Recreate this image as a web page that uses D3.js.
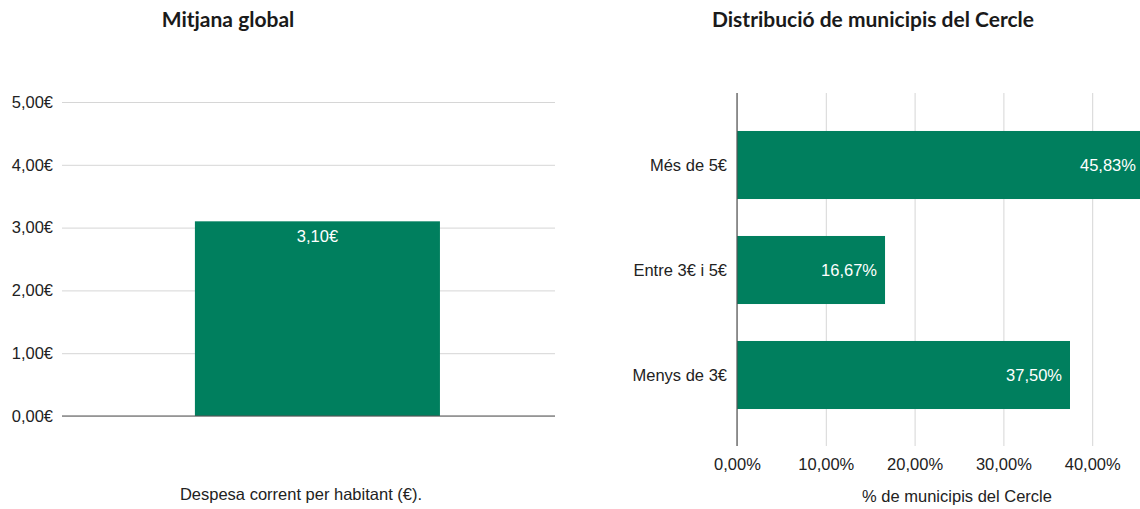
<!DOCTYPE html>
<html>
<head>
<meta charset="utf-8">
<script src="https://cdn.jsdelivr.net/npm/d3@7"></script>
<style>
  html, body { margin: 0; padding: 0; background: #fff; }
  svg { display: block; }
  .title { font-family: Lato, "Open Sans", sans-serif; font-weight: 700; font-size: 21px; fill: #1a1a1a; }
  .lbl { font-family: "Liberation Sans", Arial, Helvetica, sans-serif; font-size: 16.5px; fill: #222; }
</style>
</head>
<body>
<svg id="chart" width="1140" height="509"></svg>
<script>
// Left panel: overall average
const avgCategories = ["Mitjana"];
const avgValues = [3.10];
const avgTicks = [0, 1, 2, 3, 4, 5];

// Right panel: distribution of municipalities
const distCategories = ["Més de 5€", "Entre 3€ i 5€", "Menys de 3€"];
const distValues = [45.83, 16.67, 37.50];
const distTicks = [0, 10, 20, 30, 40];

const green = "#007f5e";
const gridColor = "#d6d6d6";
const fmt2 = v => v.toFixed(2).replace(".", ",");

const svg = d3.select("#chart");

function styleTickText(g) {
  g.attr("font-family", null).attr("font-size", null);
  g.selectAll(".tick text").attr("class", "lbl").attr("fill", "#222");
}

// ---------- Left chart ----------
const L = { x0: 62, x1: 555, y0: 102, y1: 416 };
const yL = d3.scaleLinear().domain([0, 5]).range([L.y1, L.y0]);
const xL = d3.scaleBand().domain(avgCategories).range([L.x0, L.x1])
  .paddingInner(0.5).paddingOuter(0.253).align(0.536);

svg.append("text").attr("class", "title").attr("x", 228).attr("y", 27)
  .attr("text-anchor", "middle").text("Mitjana global");

const gL = svg.append("g");
gL.append("g").attr("transform", `translate(${L.x0},0)`)
  .call(d3.axisLeft(yL).tickValues(avgTicks).tickSize(-(L.x1 - L.x0)).tickPadding(9).tickFormat(v => fmt2(v) + "€"))
  .call(g => g.select(".domain").remove())
  .call(g => g.selectAll(".tick line").attr("stroke", gridColor).attr("stroke-width", 1))
  .call(styleTickText);

gL.selectAll("rect.bar").data(avgValues).join("rect").attr("class", "bar")
  .attr("x", (d, i) => xL(avgCategories[i])).attr("width", xL.bandwidth())
  .attr("y", d => yL(d)).attr("height", d => yL(0) - yL(d)).attr("fill", green);

gL.append("line").attr("x1", L.x0).attr("x2", L.x1).attr("y1", yL(0)).attr("y2", yL(0))
  .attr("stroke", "#555").attr("stroke-width", 1.2);

gL.selectAll("text.val").data(avgValues).join("text").attr("class", "lbl val")
  .attr("x", (d, i) => xL(avgCategories[i]) + xL.bandwidth() / 2).attr("y", d => yL(d) + 21)
  .attr("text-anchor", "middle").style("fill", "#fff").text(d => fmt2(d) + "€");

svg.append("text").attr("class", "lbl").attr("x", 301).attr("y", 500)
  .attr("text-anchor", "middle").text("Despesa corrent per habitant (€).");

// ---------- Right chart ----------
const R = { x0: 737, y0: 93, y1: 446 };
const xR = d3.scaleLinear().domain([0, 10]).range([R.x0, R.x0 + 88.8]);
const yR = d3.scaleBand().domain(distCategories).range([112.5, 427.5]).paddingInner(0.352).paddingOuter(0.176);

svg.append("text").attr("class", "title").attr("x", 873).attr("y", 27)
  .attr("text-anchor", "middle").text("Distribució de municipis del Cercle");

const gR = svg.append("g");
gR.append("g").attr("transform", `translate(0,${R.y1})`)
  .call(d3.axisBottom(xR).tickValues(distTicks).tickSize(-(R.y1 - R.y0)).tickPadding(12).tickFormat(v => fmt2(v) + "%"))
  .call(g => g.select(".domain").remove())
  .call(g => g.selectAll(".tick line").attr("stroke", gridColor).attr("stroke-width", 1))
  .call(styleTickText);

gR.selectAll("rect.bar").data(distValues).join("rect").attr("class", "bar")
  .attr("x", xR(0)).attr("y", (d, i) => yR(distCategories[i]))
  .attr("width", d => xR(d) - xR(0)).attr("height", yR.bandwidth()).attr("fill", green);

gR.append("line").attr("x1", R.x0).attr("x2", R.x0).attr("y1", R.y0).attr("y2", R.y1)
  .attr("stroke", "#555").attr("stroke-width", 1.2);

gR.selectAll("text.val").data(distValues).join("text").attr("class", "lbl val")
  .attr("x", d => xR(d) - 8).attr("y", (d, i) => yR(distCategories[i]) + yR.bandwidth() / 2 + 6)
  .attr("text-anchor", "end").style("fill", "#fff").text(d => fmt2(d) + "%");

gR.selectAll("text.cat").data(distCategories).join("text").attr("class", "lbl cat")
  .attr("x", 727).attr("y", d => yR(d) + yR.bandwidth() / 2 + 6)
  .attr("text-anchor", "end").text(d => d);

svg.append("text").attr("class", "lbl").attr("x", 957).attr("y", 502)
  .attr("text-anchor", "middle").text("% de municipis del Cercle");
</script>
</body>
</html>
